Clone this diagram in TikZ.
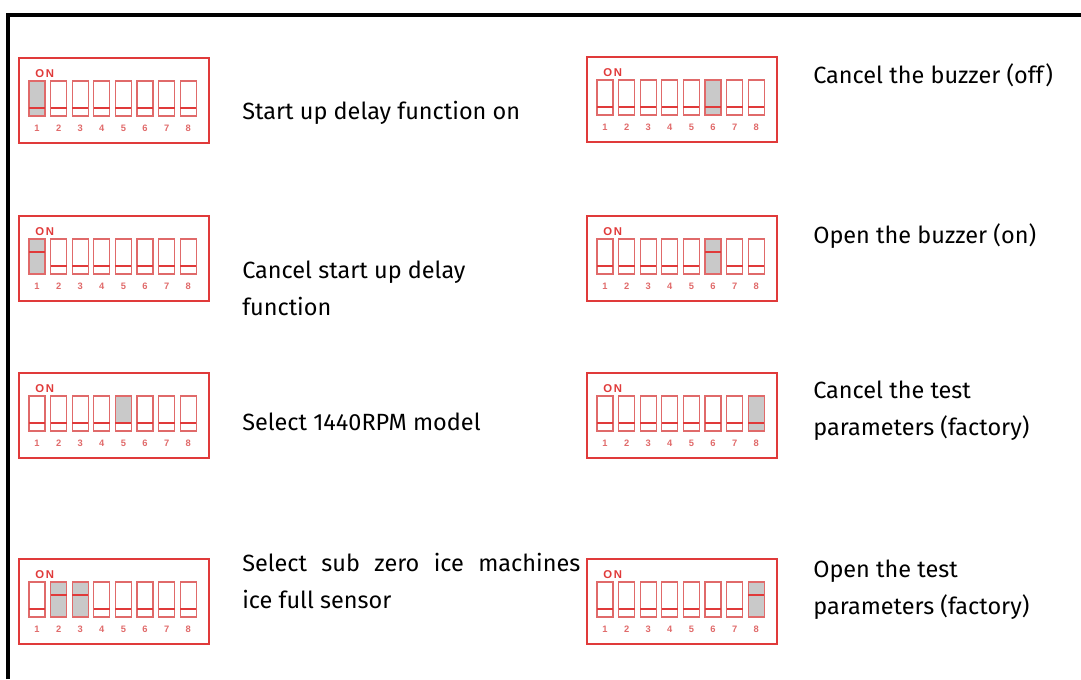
\documentclass[tikz,border=0pt]{standalone}
\usepackage{fontspec}
\setmainfont{Fira Sans}
\newfontfamily\dipfont{Liberation Sans}
\usetikzlibrary{positioning}

\definecolor{dipred}{HTML}{E03A3A}
\definecolor{swred}{HTML}{E06A6A}
\definecolor{swgrey}{HTML}{C9C9C9}

\tikzset{
  dipframe/.style={draw=dipred, line width=1.3pt, minimum width=142.5pt, minimum height=64pt, inner sep=0pt, anchor=north west},
  swbox/.style={draw=swred, line width=1pt},
  swbar/.style={draw=dipred, line width=1.8pt},
  swnum/.style={text=swred, font=\dipfont\bfseries\fontsize{7}{8}\selectfont, inner sep=0pt, text height=5pt, text depth=0pt},
  desc/.style={anchor=base west, inner sep=0pt, font=\fontsize{17.6}{27.75}\selectfont, align=left}
}

% DIP-Schalter: Name, Position, Liste Schalter/Grau-Ende/Hebel
\newcommand{\dipbox}[3]{%
  \node[dipframe] (#1) at (#2) {};
  \begin{scope}[shift={(#1.north west)}]
    \node[swnum, text=dipred, font=\dipfont\bfseries\fontsize{8.5}{9}\selectfont, text height=6pt, anchor=west] at (17,16) {O\,N};
    \foreach \n in {1,...,8} {
      \draw[swbox] ({11+(\n-1)*21.6},24) rectangle ++(16,35);
      \draw[swbar] ({11+(\n-1)*21.6},51) -- ++(16,0);
      \node[swnum] at ({19+(\n-1)*21.6},71) {\n};
    }
    \foreach \n/\g/\b in {#3} {
      \fill[swgrey] ({11+(\n-1)*21.6},24) rectangle ++(16,\g-24);
      \draw[swbox] ({11+(\n-1)*21.6},24) rectangle ++(16,35);
      \draw[swbar] ({11+(\n-1)*21.6},\b) -- ++(16,0);
    }
  \end{scope}
}

\begin{document}
\begin{tikzpicture}[x=0.75pt, y=-0.75pt]
  \useasboundingbox (0,0) rectangle (1081,679);

  % Rahmen
  \draw[line width=3pt] (8,679) -- (8,15) -- (1081,15);

  % linke Spalte
  \dipbox{dipA}{18,57}{1/59/51}
  \dipbox{dipB}{18,215}{1/59/37}
  \dipbox{dipC}{18,372}{5/51/51}
  \dipbox{dipD}{18,558}{2/59/37, 3/59/37}

  \node[desc] (txtA) at (242,119) {Start up delay function on};
  \node[desc] (txtB) at (242,315) {Cancel start up delay\\function};
  \node[desc] (txtC) at (242,430) {Select 1440RPM model};
  \node[desc] (txtD) at (242,608) {\makebox[253.5pt][s]{Select sub zero ice machines}\\ice full sensor};

  % rechte Spalte
  \dipbox{dipE}{586,56}{6/59/51}
  \dipbox{dipF}{586,215}{6/59/37}
  \dipbox{dipG}{586,372}{8/59/51}
  \dipbox{dipH}{586,558}{8/59/37}

  \node[desc] (txtE) at (813,83) {Cancel the buzzer (off)};
  \node[desc] (txtF) at (813,243) {Open the buzzer (on)};
  \node[desc] (txtG) at (813,435) {Cancel the test\\parameters (factory)};
  \node[desc] (txtH) at (813,614) {Open the test\\parameters (factory)};

\end{tikzpicture}
\end{document}
